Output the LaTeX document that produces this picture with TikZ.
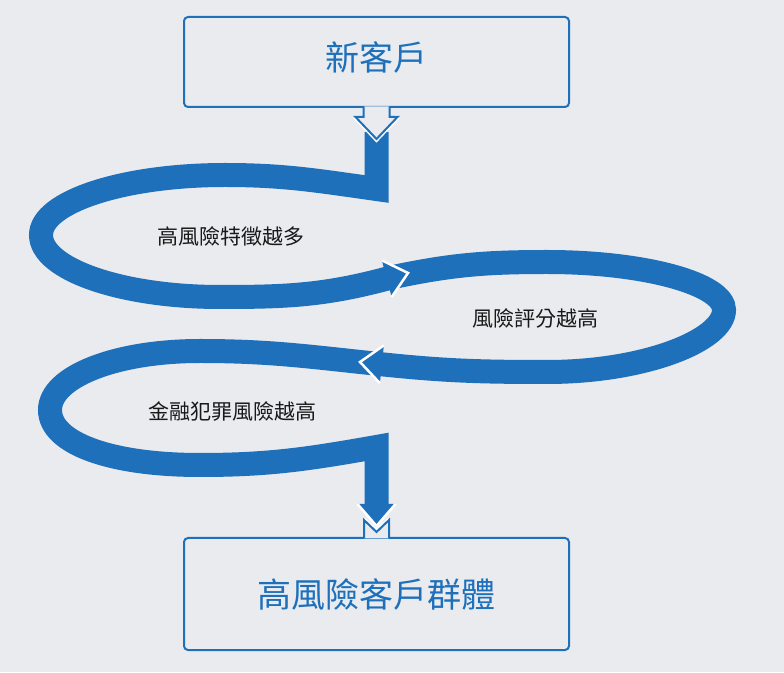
\documentclass[tikz,border=0pt]{standalone}
\usepackage{fontspec}
\newfontfamily\cjk{Noto Sans CJK TC}
\usetikzlibrary{calc}
\definecolor{bandblue}{RGB}{30,112,187}
\definecolor{paper}{RGB}{233,235,238}
\definecolor{ink}{RGB}{25,25,25}
\tikzstyle{outbox} = [rectangle, draw=bandblue, line width=2pt, rounded corners=4pt,
    minimum width=385pt]
\tikzstyle{boxtext} = [text=bandblue, font=\cjk\fontsize{34}{40}\selectfont]
\tikzstyle{steptext} = [text=ink, font=\cjk\fontsize{21}{25}\selectfont]
\tikzstyle{band} = [draw=bandblue, line width=24pt, line join=miter]
\tikzstyle{headtip} = [fill=bandblue, draw=white, line width=2.5pt, line join=miter]
\tikzstyle{notch} = [draw=bandblue, fill=paper, line width=2pt, line join=miter]
\tikzstyle{halo} = [draw=white, line width=5pt, line join=miter]
\newcommand{\bandhead}[2]{\filldraw[headtip,shift={(#1)},rotate=#2] (-22,19) -- (0,0) -- (-22,-19);}

\begin{document}
\begin{tikzpicture}[x=1pt,y=1pt]
  \fill[paper] (0,0) rectangle (784,672);
  \node[outbox,minimum height=90pt] (newc) at (376.5,610) {};
  \node[boxtext] (newt) at ([yshift=5pt]newc.center) {新客戶};
  \node[outbox,minimum height=112pt,boxtext] (grp) at (376.5,78) {高風險客戶群體};
  \node[steptext] (feat) at (231,436) {高風險特徵越多};
  \node[steptext] (score) at (535,354) {風險評分越高};
  \node[steptext] (crime) at (232,260) {金融犯罪風險越高};

  \coordinate (top) at ($(newc.south)+(0,-24)$);
  \coordinate (tip1) at (408,399);
  \coordinate (tip2) at (360,310);
  \coordinate (tip3) at ($(grp.north)+(0,11)$);

  \draw[band] ($(tip2)+(-6:17)$) to[out=174,in=0] (200,321)
    .. controls (115,321) and (50,295) .. (50,262)
    .. controls (50,229) and (110,207) .. (200,207)
    to[out=0,in=190] (376.5,225) -- ($(tip3)+(0,21)$);
  \draw[band] ($(tip1)+(195:17)$) to[out=12,in=180] (547,410)
    .. controls (645,410) and (724,388) .. (724,362)
    .. controls (724,332) and (645,300) .. (547,300)
    to[out=180,in=-6] ($(tip2)+(-6:21)$);
  \bandhead{tip2}{174}
  \draw[band] (top) -- ++(0,-57) to[out=172,in=0] (225,497)
    .. controls (123,497) and (41,470) .. (41,437)
    .. controls (41,403) and (121,375) .. (220,375)
    to[out=0,in=195] ($(tip1)+(195:21)$);
  \bandhead{tip1}{15}
  \bandhead{tip3}{-90}

  \draw[halo] ($(newc.south)+(-21,-9)$) -- ($(newc.south)+(0,-31)$) -- ($(newc.south)+(21,-9)$);
  \filldraw[notch] ($(newc.south)+(-13,1.5)$) -- ++(0,-10.5) -- ++(-8,0) -- ++(21,-22)
    -- ++(21,22) -- ++(-8,0) -- ++(0,10.5);
  \draw[halo] ($(grp.north)+(-12.5,17)$) -- ($(grp.north)+(0,5)$) -- ($(grp.north)+(12.5,17)$);
  \filldraw[notch] ($(grp.north)+(-12.5,-1.5)$) -- ++(0,18.5) -- ++(12.5,-12)
    -- ++(12.5,12) -- ++(0,-18.5);
\end{tikzpicture}
\end{document}
